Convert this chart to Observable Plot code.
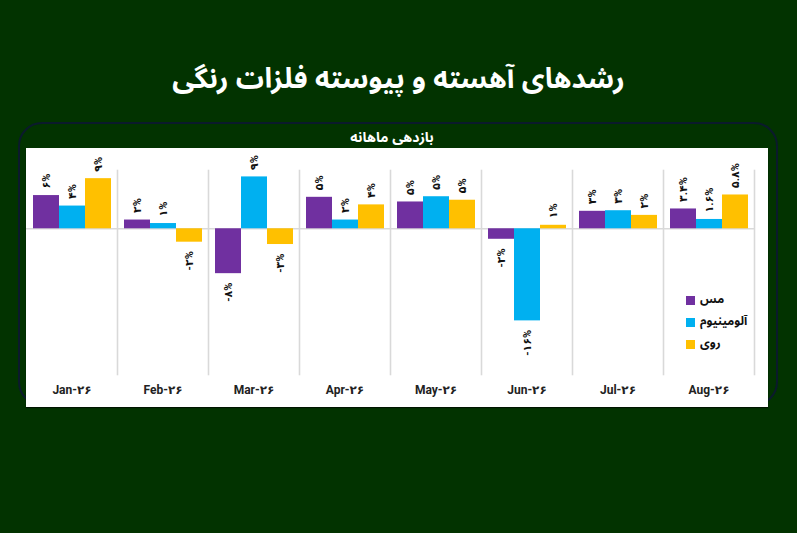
<!DOCTYPE html>
<html>
<head>
<meta charset="utf-8">
<script src="https://cdn.jsdelivr.net/npm/d3@7"></script>
<script src="https://cdn.jsdelivr.net/npm/@observablehq/plot@0.6"></script>
<style>
  html, body { margin: 0; padding: 0; }
  body { width: 797px; height: 533px; background: #023300; overflow: hidden; }
  #root { position: relative; width: 797px; height: 533px; background: #023300; font-family: "Noto Sans Arabic", "DejaVu Sans", sans-serif; }
  #title { position: absolute; left: 0; top: 62px; width: 797px; text-align: center; color: #fff; font-size: 28px; font-weight: bold; direction: rtl; line-height: 36px; }
  #border { position: absolute; left: 18px; top: 122px; width: 756px; height: 280px; border: 2px solid #0b1a2c; border-radius: 24px; }
  #subtitle { position: absolute; left: 0; top: 129px; width: 784px; text-align: center; color: #fff; font-size: 14px; font-weight: bold; direction: rtl; line-height: 18px; z-index: 3; }
  #panel { position: absolute; left: 26px; top: 148px; width: 742px; height: 259px; background: #fff; box-shadow: 0 1px 1px rgba(0,0,0,0.6); }
  #legend { position: absolute; left: 686px; top: 289px; font-size: 12px; font-weight: bold; color: #111; z-index: 3; }
  .item { display: flex; align-items: center; height: 22px; }
  .item span.t { display: block; line-height: 14px; height: 14px; }
  .sw { width: 9px; height: 9px; margin-right: 5px; flex: none; }
</style>
</head>
<body>
<div id="root">
  <div id="title">رشدهای آهسته و پیوسته فلزات رنگی</div>
  <div id="border"></div>
  <div id="panel"></div>
  <div id="subtitle">بازدهی ماهانه</div>
  <div id="legend"></div>
</div>
<script>
const months = ["Jan-۲۶", "Feb-۲۶", "Mar-۲۶", "Apr-۲۶", "May-۲۶", "Jun-۲۶", "Jul-۲۶", "Aug-۲۶"];
const metals = ["مس", "آلومینیوم", "روی"];
const colors = ["#7030A0", "#00B0F0", "#FFC000"];

const copper   = [5.7, 1.5, -7.7, 5.4, 4.6, -1.8, 3.0, 3.4];
const aluminum = [3.9, 0.9, 8.9, 1.5, 5.5, -15.8, 3.1, 1.6];
const zinc     = [8.6, -2.3, -2.7, 4.1, 4.9, 0.6, 2.3, 5.8];

const copperLabels   = ["۶%", "۲%", "-۸%", "۵%", "۵%", "-۲%", "۳%", "۳.۴%"];
const aluminumLabels = ["۴%", "۱%", "۹%", "۲%", "۵%", "-۱۶%", "۳%", "۱.۶%"];
const zincLabels     = ["۹%", "-۲%", "-۳%", "۴%", "۵%", "۱%", "۲%", "۵.۸%"];

const series = [copper, aluminum, zinc];
const seriesLabels = [copperLabels, aluminumLabels, zincLabels];

const data = months.flatMap((m, i) => metals.map((metal, k) => ({
  month: m, metal, value: series[k][i], label: seriesLabels[k][i]
})));

const font = "Roboto, 'DejaVu Sans', sans-serif";

const chart = Plot.plot({
  width: 742,
  height: 259,
  marginLeft: 0,
  marginRight: 14,
  marginTop: 22,
  marginBottom: 33,
  style: { fontFamily: font, background: "transparent", color: "#222" },
  fx: { domain: months, padding: 0, axis: null, label: null },
  x: { domain: metals, axis: null, paddingInner: 0, paddingOuter: 0.25 },
  y: { domain: [-25, 10], axis: null },
  color: { domain: metals, range: colors },
  marks: [
    Plot.frame({ anchor: "right", stroke: "#d9d9d9", strokeWidth: 1.6 }),
    Plot.ruleY([0], { stroke: "#d9d9d9", strokeWidth: 1.6 }),
    Plot.barY(data, { fx: "month", x: "metal", y: "value", fill: "metal" }),
    Plot.text(data.filter(d => d.value >= 0), {
      fx: "month", x: "metal", y: "value", text: "label",
      rotate: -90, textAnchor: "start", dy: -7,
      fontSize: 11, fontWeight: "bold", fill: "#111"
    }),
    Plot.text(data.filter(d => d.value < 0), {
      fx: "month", x: "metal", y: "value", text: "label",
      rotate: -90, textAnchor: "end", dy: 9,
      fontSize: 11, fontWeight: "bold", fill: "#111"
    }),
    Plot.axisFx({
      anchor: "bottom", tickSize: 0, tickPadding: 11, label: null,
      fontSize: 12, fontWeight: "bold", fill: "#222"
    })
  ]
});
document.getElementById("panel").appendChild(chart);

const legend = document.getElementById("legend");
metals.forEach((m, k) => {
  const row = document.createElement("div");
  row.className = "item";
  const sw = document.createElement("span");
  sw.className = "sw";
  sw.style.background = colors[k];
  const t = document.createElement("span");
  t.className = "t";
  t.textContent = m;
  row.appendChild(sw);
  row.appendChild(t);
  legend.appendChild(row);
});
</script>
</body>
</html>
